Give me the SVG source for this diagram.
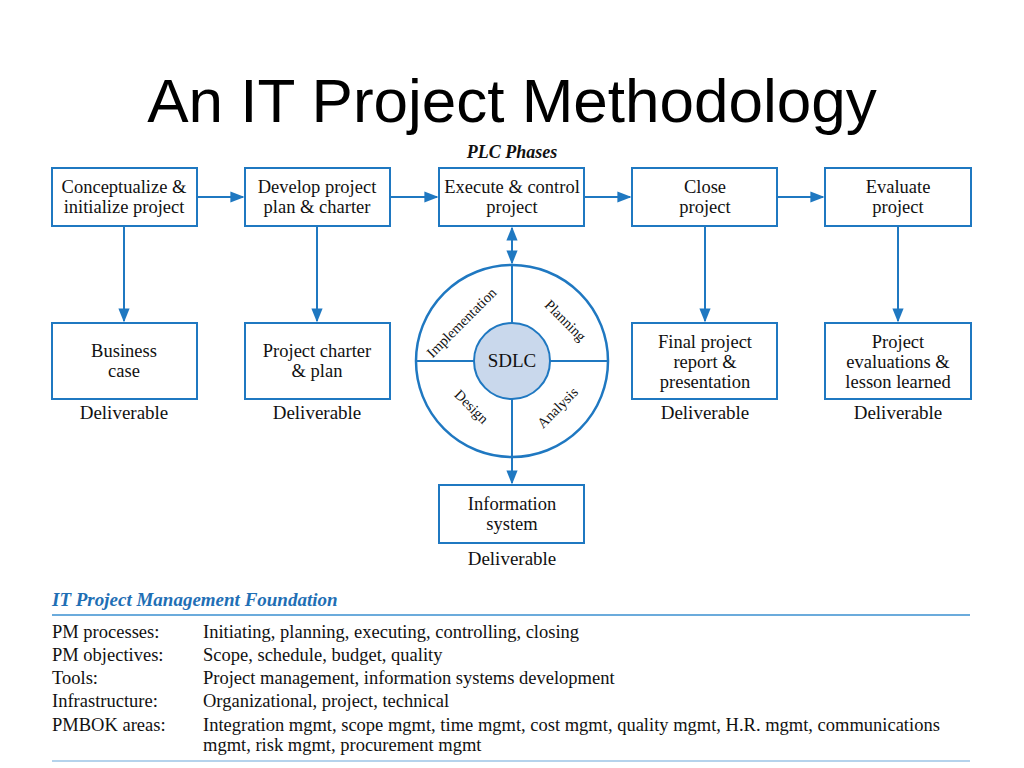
<svg xmlns="http://www.w3.org/2000/svg" width="1024" height="768" viewBox="0 0 1024 768">
<defs>
<marker id="ah" viewBox="0 0 10 10" refX="9" refY="5" markerWidth="7" markerHeight="7" orient="auto-start-reverse"><path d="M0,1 L10,5 L0,9 z" fill="#1f78c1"/></marker>
<style>
.b{fill:#fff;stroke:#1f78c1;stroke-width:2}
.t{font-family:"Liberation Serif",serif;font-size:18.5px;fill:#111;text-anchor:middle}
.d{font-family:"Liberation Serif",serif;font-size:19px;fill:#111;text-anchor:middle}
.c{stroke:#1f78c1;stroke-width:2;fill:none}
.l{font-family:"Liberation Serif",serif;font-size:18.5px;fill:#111}
.s{font-family:"Liberation Serif",serif;font-size:14.5px;fill:#111;text-anchor:middle}
</style>
</defs>
<rect width="1024" height="768" fill="#fff"/>
<text x="512" y="122" font-family="Liberation Sans,sans-serif" font-size="62" text-anchor="middle" fill="#000">An IT Project Methodology</text>
<text x="512" y="158" font-family="Liberation Serif,serif" font-size="18" font-weight="bold" font-style="italic" text-anchor="middle" fill="#111">PLC Phases</text>
<g id="n1"><rect class="b" x="52" y="168" width="145" height="58"/><text class="t" x="124" y="193">Conceptualize &amp;</text><text class="t" x="124" y="213">initialize project</text></g>
<g id="n2"><rect class="b" x="245" y="168" width="145" height="58"/><text class="t" x="317" y="193">Develop project</text><text class="t" x="317" y="213">plan &amp; charter</text></g>
<g id="n3"><rect class="b" x="439" y="168" width="145" height="58"/><text class="t" x="512" y="193">Execute &amp; control</text><text class="t" x="512" y="213">project</text></g>
<g id="n4"><rect class="b" x="632" y="168" width="145" height="58"/><text class="t" x="705" y="193">Close</text><text class="t" x="705" y="213">project</text></g>
<g id="n5"><rect class="b" x="825" y="168" width="146" height="58"/><text class="t" x="898" y="193">Evaluate</text><text class="t" x="898" y="213">project</text></g>
<g id="d1"><rect class="b" x="52" y="323" width="145" height="76"/><text class="t" x="124" y="357">Business</text><text class="t" x="124" y="377">case</text><text class="d" x="124" y="419">Deliverable</text></g>
<g id="d2"><rect class="b" x="245" y="323" width="145" height="76"/><text class="t" x="317" y="357">Project charter</text><text class="t" x="317" y="377">&amp; plan</text><text class="d" x="317" y="419">Deliverable</text></g>
<g id="d4"><rect class="b" x="632" y="323" width="145" height="76"/><text class="t" x="705" y="348">Final project</text><text class="t" x="705" y="368">report &amp;</text><text class="t" x="705" y="388">presentation</text><text class="d" x="705" y="419">Deliverable</text></g>
<g id="d5"><rect class="b" x="825" y="323" width="146" height="76"/><text class="t" x="898" y="348">Project</text><text class="t" x="898" y="368">evaluations &amp;</text><text class="t" x="898" y="388">lesson learned</text><text class="d" x="898" y="419">Deliverable</text></g>
<g id="sdlc">
<circle cx="512" cy="361" r="96" fill="#fff" stroke="#1f78c1" stroke-width="2.5"/>
<path class="c" d="M416,361H608M512,265V457"/>
<circle cx="512" cy="361" r="38" fill="#c9d8ec" stroke="#1f78c1" stroke-width="2"/>
<text x="512" y="367" font-family="Liberation Serif,serif" font-size="19" text-anchor="middle" fill="#111">SDLC</text>
<text class="s" transform="translate(465,326) rotate(-45)">Implementation</text>
<text class="s" transform="translate(562,324) rotate(45)">Planning</text>
<text class="s" transform="translate(468,410) rotate(45)">Design</text>
<text class="s" transform="translate(561,411) rotate(-45)">Analysis</text>
</g>
<g id="d3"><rect class="b" x="439" y="485" width="145" height="58"/><text class="t" x="512" y="510">Information</text><text class="t" x="512" y="530">system</text><text class="d" x="512" y="565">Deliverable</text></g>
<g id="connectors" class="c">
<path d="M197,197H243" marker-end="url(#ah)"/>
<path d="M390,197H437" marker-end="url(#ah)"/>
<path d="M584,197H630" marker-end="url(#ah)"/>
<path d="M777,197H823" marker-end="url(#ah)"/>
<path d="M124,226V321" marker-end="url(#ah)"/>
<path d="M317,226V321" marker-end="url(#ah)"/>
<path d="M705,226V321" marker-end="url(#ah)"/>
<path d="M898,226V321" marker-end="url(#ah)"/>
<path d="M512,228V263" marker-start="url(#ah)" marker-end="url(#ah)"/>
<path d="M512,457V483" marker-end="url(#ah)"/>
</g>
<g id="foundation">
<text x="52" y="606" font-family="Liberation Serif,serif" font-size="19" font-weight="bold" font-style="italic" fill="#1f6fb5">IT Project Management Foundation</text>
<line x1="52" y1="615" x2="970" y2="615" stroke="#3a8fd0" stroke-width="1.5"/>
<text class="l" x="52" y="638">PM processes:</text><text class="l" x="203" y="638">Initiating, planning, executing, controlling, closing</text>
<text class="l" x="52" y="661">PM objectives:</text><text class="l" x="203" y="661">Scope, schedule, budget, quality</text>
<text class="l" x="52" y="684">Tools:</text><text class="l" x="203" y="684">Project management, information systems development</text>
<text class="l" x="52" y="707">Infrastructure:</text><text class="l" x="203" y="707">Organizational, project, technical</text>
<text class="l" x="52" y="731">PMBOK areas:</text><text class="l" x="203" y="731">Integration mgmt, scope mgmt, time mgmt, cost mgmt, quality mgmt, H.R. mgmt, communications</text>
<text class="l" x="203" y="751">mgmt, risk mgmt, procurement mgmt</text>
<line x1="52" y1="761" x2="970" y2="761" stroke="#9cc4e6" stroke-width="1.5"/>
</g>
</svg>
